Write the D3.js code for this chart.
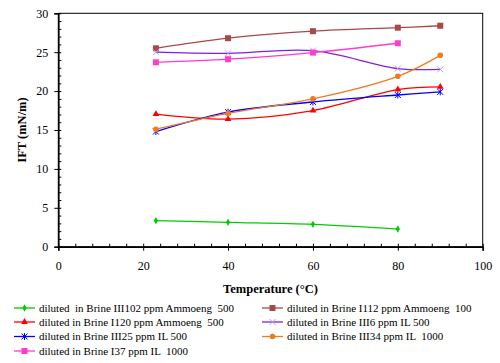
<!DOCTYPE html>
<html>
<head>
<meta charset="utf-8">
<script src="https://cdn.jsdelivr.net/npm/d3@7"></script>
<style>
  body { margin: 0; background: #fff; }
  svg { font-family: "Liberation Serif", "DejaVu Serif", serif; }
</style>
</head>
<body>
<div id="container"></div>
<script>
// temperatures (°C)
const temps = [23, 40, 60, 80, 90];

// IFT (mN/m) per series
const seriesNames = [
  "diluted  in Brine III102 ppm Ammoeng  500",
  "diluted in Brine I112 ppm Ammoeng  100",
  "diluted in Brine I120 ppm Ammoeng  500",
  "diluted in Brine III6 ppm IL 500",
  "diluted in Brine III25 ppm IL 500",
  "diluted in Brine III34 ppm IL  1000",
  "diluted in Brine I37 ppm IL  1000"
];
const green = [3.35, 3.13, 2.87, 2.27];
const brown = [25.5, 26.8, 27.7, 28.15, 28.4];
const red = [17.05, 16.4, 17.5, 20.2, 20.55];
const purple = [25.0, 24.85, 25.2, 22.9, 22.8];
const blue = [14.8, 17.3, 18.6, 19.5, 19.9];
const orange = [15.1, 17.15, 19.0, 21.9, 24.6];
const pink = [23.7, 24.1, 24.95, 26.15];

const seriesValues = [green, brown, red, purple, blue, orange, pink];
const seriesColors = ["#00cc00", "#a84848", "#ff0000", "#7f1fe0", "#0000ff", "#ee7a22", "#ff3ccc"];
const seriesMarkers = ["diamond", "square", "triangle", "x", "star", "circle", "square"];

const xTicks = [0, 20, 40, 60, 80, 100];
const yTicks = [0, 5, 10, 15, 20, 25, 30];

const width = 500, height = 363;
const mLeft = 58.3, mRight = 482.7, mTop = 13.3, mBottom = 246.7;

const svg = d3.select("#container").append("svg")
  .attr("width", width)
  .attr("height", height);

const x = d3.scaleLinear().domain([0, 100]).range([mLeft, mRight]);
const y = d3.scaleLinear().domain([0, 30]).range([mBottom, mTop]);

// plot frame
svg.append("rect")
  .attr("x", mLeft).attr("y", mTop)
  .attr("width", mRight - mLeft).attr("height", mBottom - mTop)
  .attr("fill", "none").attr("stroke", "#000").attr("stroke-width", 1);

// minor ticks (inside)
const yAxisMinor = d3.axisRight(y).tickValues(d3.range(0, 31, 1)).tickSize(3).tickFormat("");
svg.append("g").attr("transform", `translate(${mLeft},0)`).call(yAxisMinor)
  .call(g => g.select(".domain").remove());
const xAxisMinor = d3.axisTop(x).tickValues(d3.range(0, 101, 4)).tickSize(3).tickFormat("");
svg.append("g").attr("transform", `translate(0,${mBottom})`).call(xAxisMinor)
  .call(g => g.select(".domain").remove());

// major axes
const yAxis = d3.axisLeft(y).tickValues(yTicks).tickSize(4).tickPadding(6);
svg.append("g").attr("class", "axis").attr("transform", `translate(${mLeft},0)`).call(yAxis);
const xAxis = d3.axisBottom(x).tickValues(xTicks).tickSize(4).tickPadding(11);
svg.append("g").attr("class", "axis").attr("transform", `translate(0,${mBottom})`).call(xAxis);

svg.selectAll(".axis .domain").attr("stroke-width", 1.6).attr("stroke", "#000");
svg.selectAll(".tick line").attr("stroke", "#000");
svg.selectAll(".axis text")
  .style("font-family", "Liberation Serif, serif")
  .style("font-size", "12px")
  .attr("fill", "#000");

// axis titles
svg.append("text")
  .attr("x", (mLeft + mRight) / 2).attr("y", 293)
  .attr("text-anchor", "middle")
  .style("font-weight", "bold").style("font-size", "12.5px")
  .text("Temperature (°C)");
svg.append("text")
  .attr("transform", `translate(26,${(mTop + mBottom) / 2}) rotate(-90)`)
  .attr("text-anchor", "middle")
  .style("font-weight", "bold").style("font-size", "12.5px")
  .text("IFT (mN/m)");

const line = d3.line()
  .x((d, i) => x(temps[i]))
  .y(d => y(d))
  .curve(d3.curveCatmullRom.alpha(0.5));

function drawMarker(g, type, color) {
  if (type === "diamond") {
    g.append("path").attr("d", d3.symbol(d3.symbolDiamond, 16)()).attr("fill", color);
  } else if (type === "square") {
    g.append("rect").attr("x", -3).attr("y", -3).attr("width", 6).attr("height", 6).attr("fill", color);
  } else if (type === "triangle") {
    g.append("path").attr("d", d3.symbol(d3.symbolTriangle, 20)()).attr("fill", color);
  } else if (type === "circle") {
    g.append("circle").attr("r", 2.8).attr("fill", color);
  } else if (type === "x") {
    g.append("path").attr("d", "M-3,-3L3,3M-3,3L3,-3").attr("stroke", "#b0a0e8").attr("stroke-width", 1).attr("fill", "none");
  } else if (type === "star") {
    g.append("path").attr("d", "M-3,-3L3,3M-3,3L3,-3M0,-3.5L0,3.5").attr("stroke", color).attr("stroke-width", 1).attr("fill", "none");
  }
}

const items = svg.selectAll(".series")
  .data(seriesValues)
  .enter()
  .append("g")
    .attr("class", "series");

items.append("path")
  .attr("d", d => line(d))
  .attr("fill", "none")
  .attr("stroke", (d, i) => seriesColors[i])
  .attr("stroke-width", 1.3);

items.each(function (vals, si) {
  d3.select(this).selectAll(".pt")
    .data(vals)
    .enter()
    .append("g")
      .attr("transform", (d, i) => `translate(${x(temps[i])},${y(d)})`)
      .each(function () { drawMarker(d3.select(this), seriesMarkers[si], seriesColors[si]); });
});

// legend
const legendPos = [
  [14, 308], [262, 308],
  [14, 322], [262, 322],
  [14, 336.5], [262, 336.5],
  [14, 351]
];
const legend = svg.selectAll(".legend")
  .data(seriesNames)
  .enter()
  .append("g")
    .attr("class", "legend")
    .attr("transform", (d, i) => `translate(${legendPos[i][0]},${legendPos[i][1]})`);

legend.append("line")
  .attr("x1", 0).attr("x2", 21).attr("y1", 0).attr("y2", 0)
  .attr("stroke", (d, i) => seriesColors[i]).attr("stroke-width", 1.3);
legend.append("g")
  .attr("transform", "translate(10.5,0)")
  .each(function (d, i) { drawMarker(d3.select(this), seriesMarkers[i], seriesColors[i]); });
legend.append("text")
  .attr("x", 25).attr("y", 3.8)
  .style("font-size", "11px")
  .style("white-space", "pre")
  .text(d => d);
</script>
</body>
</html>
